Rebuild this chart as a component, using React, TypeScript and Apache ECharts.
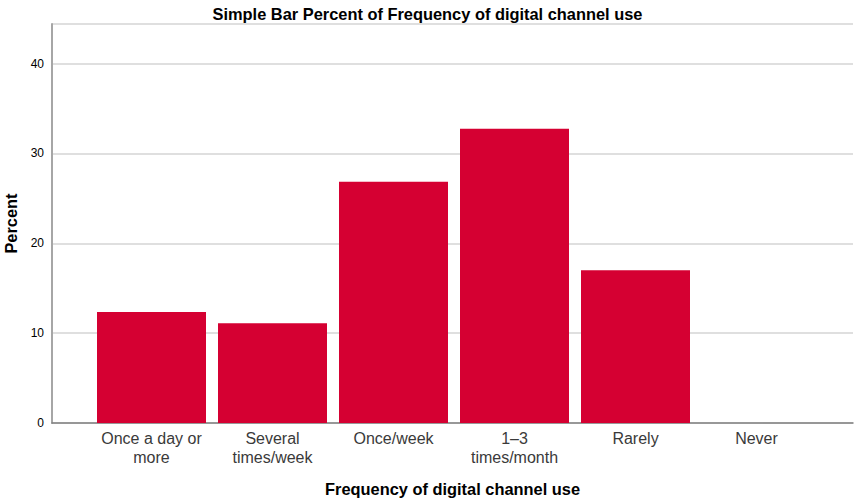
import React, { useEffect, useRef } from "react";
import * as echarts from "echarts";

const categories = [
  "Once a day or\nmore",
  "Several\ntimes/week",
  "Once/week",
  "1\u20133\ntimes/month",
  "Rarely",
  "Never",
];
const percentValues = [12.35, 11.1, 26.85, 32.75, 17.0, 0];
const yTicks = { min: 0, max: 44.4, interval: 10 };

export default function App() {
  const ref = useRef<HTMLDivElement>(null);
  useEffect(() => {
    if (!ref.current) return;
    const chart = echarts.init(ref.current, undefined, { renderer: "svg" });
    const font = "Liberation Sans, Arial, sans-serif";
    chart.setOption({
      animation: false,
      backgroundColor: "#ffffff",
      title: {
        text: "Simple Bar Percent of Frequency of digital channel use",
        left: "center",
        top: 1,
        textStyle: { fontFamily: font, fontSize: 16.4, fontWeight: "bold", color: "#000" },
      },
      grid: [
        { left: 52, right: 2, top: 24, bottom: 78, containLabel: false, outerBoundsMode: "none" },
        { left: 91, right: 38, top: 24, bottom: 78, containLabel: false, outerBoundsMode: "none" },
      ],
      xAxis: [
        {
          type: "value",
          gridIndex: 0,
          min: 0,
          max: 1,
          axisLine: { show: true, onZero: false, lineStyle: { color: "#808080", width: 1.5 } },
          axisTick: { show: false },
          axisLabel: { show: false },
          splitLine: { show: false },
          name: "Frequency of digital channel use",
          nameLocation: "middle",
          nameGap: 58,
          nameTextStyle: { fontFamily: font, fontSize: 16.4, fontWeight: "bold", color: "#000" },
        },
        {
          type: "category",
          gridIndex: 1,
          data: categories,
          axisLine: { show: false },
          axisTick: { show: false },
          axisLabel: {
            fontFamily: font,
            fontSize: 16,
            color: "#3a3a3a",
            lineHeight: 19,
            margin: 6,
            interval: 0,
          },
        },
      ],
      yAxis: [
        {
          type: "value",
          gridIndex: 0,
          min: yTicks.min,
          max: yTicks.max,
          interval: yTicks.interval,
          axisLine: { show: true, lineStyle: { color: "#a6a6a6", width: 2 } },
          axisTick: { show: false },
          axisLabel: {
            fontFamily: font,
            fontSize: 12,
            color: "#000",
            margin: 8,
            padding: [5, 0, 0, 0],
            showMaxLabel: false,
          },
          splitLine: { show: true, lineStyle: { color: "#d4d4d4", width: 1.5 } },
          name: "Percent",
          nameLocation: "middle",
          nameGap: 33,
          nameTextStyle: { fontFamily: font, fontSize: 16.4, fontWeight: "bold", color: "#000" },
        },
        {
          type: "value",
          gridIndex: 1,
          min: yTicks.min,
          max: yTicks.max,
          interval: yTicks.interval,
          show: false,
          splitLine: { show: false },
        },
      ],
      series: [
        {
          type: "bar",
          xAxisIndex: 1,
          yAxisIndex: 1,
          data: percentValues,
          barWidth: 109,
          itemStyle: { color: "#d50032" },
        },
      ],
    });
    return () => chart.dispose();
  }, []);
  return <div ref={ref} style={{ width: 855, height: 501, position: "absolute", left: 0, top: 0 }} />;
}
